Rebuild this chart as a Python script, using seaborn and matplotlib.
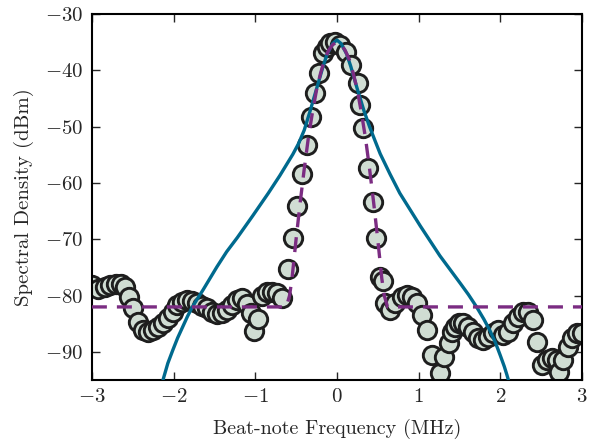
import numpy as np
import pandas as pd
import matplotlib
matplotlib.use("Agg")
import matplotlib.pyplot as plt
import seaborn as sns

# measured beat-note spectrum (MHz, dBm)
freq_data = [
    -3.00, -2.93, -2.84, -2.78, -2.71, -2.64, -2.60, -2.55, -2.50, -2.44,
    -2.38, -2.31, -2.25, -2.19, -2.13, -2.07, -2.01, -1.96, -1.90, -1.84,
    -1.78, -1.71, -1.65, -1.59, -1.53, -1.47, -1.41, -1.35, -1.29, -1.22,
    -1.16, -1.10, -1.05, -1.01, -0.97, -0.92, -0.86, -0.80, -0.73, -0.67,
    -0.60, -0.54, -0.49, -0.43, -0.37, -0.32, -0.27, -0.22, -0.17, -0.12,
    -0.09, -0.02, 0.04, 0.11, 0.17, 0.26, 0.28, 0.32, 0.38, 0.44,
    0.48, 0.53, 0.56, 0.59, 0.65, 0.71, 0.80, 0.86, 0.92, 0.98,
    1.04, 1.10, 1.16, 1.26, 1.31, 1.37, 1.41, 1.44, 1.49, 1.54,
    1.60, 1.67, 1.73, 1.79, 1.85, 1.91, 1.97, 2.03, 2.09, 2.16,
    2.22, 2.28, 2.34, 2.40, 2.45, 2.51, 2.57, 2.63, 2.69, 2.72,
    2.77, 2.83, 2.88, 2.94, 3.00,
]
power_data = [
    -78.1, -78.8, -78.5, -78.1, -77.9, -77.9, -78.5, -80.2, -82.2, -84.7,
    -86.1, -86.5, -86.1, -85.6, -84.9, -84.0, -82.9, -81.7, -81.1, -80.8,
    -80.9, -81.3, -81.8, -82.2, -82.9, -83.3, -83.1, -82.5, -81.7, -80.8,
    -80.4, -81.5, -83.0, -86.3, -84.2, -80.1, -79.4, -79.4, -79.5, -80.4,
    -75.3, -69.8, -64.1, -58.4, -53.3, -48.3, -44.0, -40.5, -36.9, -35.9,
    -35.1, -35.0, -35.5, -36.7, -39.1, -42.2, -46.2, -50.2, -57.3, -63.4,
    -69.8, -76.7, -77.4, -81.3, -82.5, -81.3, -80.2, -79.9, -80.2, -81.3,
    -83.4, -86.1, -90.5, -93.7, -90.9, -88.4, -86.5, -85.6, -84.9, -84.9,
    -85.6, -86.5, -87.5, -87.9, -87.3, -86.6, -86.1, -87.0, -86.5, -84.9,
    -83.8, -82.9, -82.9, -84.3, -88.2, -92.3, -91.4, -91.1, -91.4, -93.6,
    -91.4, -89.1, -87.5, -86.6, -86.6,
]

# fitted model (dashed)
freq_fit = [-3.00, -0.62, -0.58, -0.55, -0.50, -0.45, -0.40, -0.35, -0.30,
            -0.25, -0.20, -0.15, -0.10, -0.05, 0.00, 0.05, 0.10, 0.15, 0.20,
            0.25, 0.30, 0.35, 0.40, 0.45, 0.50, 0.55, 0.58, 0.62, 3.00]
power_fit = [-82.0, -82.0, -80.0, -77.0, -70.0, -63.5, -57.5, -52.0, -47.5,
             -43.5, -40.5, -38.0, -36.4, -35.4, -35.0, -35.4, -36.4, -38.0,
             -40.5, -43.5, -47.5, -52.0, -57.5, -63.5, -70.0, -77.0, -80.0,
             -82.0, -82.0]

# model spectrum (solid)
freq_model = [-2.14, -2.10, -2.07, -2.01, -1.95, -1.89, -1.83, -1.77, -1.64,
              -1.47, -1.35, -1.22, -1.03, -0.84, -0.70, -0.54, -0.47, -0.40,
              -0.33, -0.25, -0.17, -0.12, -0.05, 0.00, 0.05, 0.12, 0.17, 0.25,
              0.33, 0.40, 0.47, 0.53, 0.65, 0.77, 1.02, 1.26, 1.51, 1.61,
              1.71, 1.80, 1.87, 1.94, 2.00, 2.05, 2.08, 2.11]
power_model = [-95.5, -93.5, -92.0, -89.7, -87.5, -85.6, -83.7, -82.0, -79.0,
               -74.9, -72.2, -69.7, -65.8, -61.8, -58.7, -54.9, -53.0, -50.6,
               -47.3, -43.3, -39.3, -37.1, -35.2, -34.6, -35.2, -37.1, -39.3,
               -43.3, -47.1, -50.0, -52.6, -54.8, -58.4, -61.8, -67.6, -72.9,
               -77.8, -79.8, -82.0, -84.2, -86.1, -88.3, -90.6, -92.6, -94.0,
               -95.5]

sns.set_style("ticks")
plt.rcParams.update({
    "font.family": "serif",
    "font.serif": ["cmr10"],
    "mathtext.fontset": "cm",
    "axes.formatter.use_mathtext": True,
    "axes.unicode_minus": True,
    "xtick.direction": "in",
    "ytick.direction": "in",
    "xtick.top": True,
    "ytick.right": True,
    "xtick.major.size": 6,
    "ytick.major.size": 6,
    "axes.linewidth": 1.5,
    "axes.edgecolor": "black",
})

meas = pd.DataFrame({"freq": freq_data, "power": power_data})
fit = pd.DataFrame({"freq": freq_fit, "power": power_fit})
model = pd.DataFrame({"freq": freq_model, "power": power_model})

fig = plt.figure(figsize=(5.89, 4.42), dpi=100)
ax = fig.add_axes([0.156, 0.14, 0.832, 0.828])

sns.scatterplot(data=meas, x="freq", y="power", ax=ax, s=175,
                color="#d0ddd3", edgecolor="#1e1e1e", linewidth=2.1,
                zorder=2, clip_on=True)
sns.lineplot(data=model, x="freq", y="power", ax=ax, sort=False,
             estimator=None, color="#006a8e", linewidth=2.4, zorder=3)
sns.lineplot(data=fit, x="freq", y="power", ax=ax, sort=False,
             estimator=None, color="#7b2c82", linewidth=2.4,
             dashes=False, zorder=4)
ax.lines[-1].set_dashes([4.5, 3])

ax.set_xlim(-3, 3)
ax.set_ylim(-95, -30)
ax.set_xticks([-3, -2, -1, 0, 1, 2, 3])
ax.set_yticks([-90, -80, -70, -60, -50, -40, -30])
ax.tick_params(labelsize=15, width=1, pad=6)
ax.set_xlabel("Beat-note Frequency (MHz)", fontsize=14.5, labelpad=9)
ax.set_ylabel("Spectral Density (dBm)", fontsize=15, labelpad=8)

fig.savefig("out.png", dpi=100)
